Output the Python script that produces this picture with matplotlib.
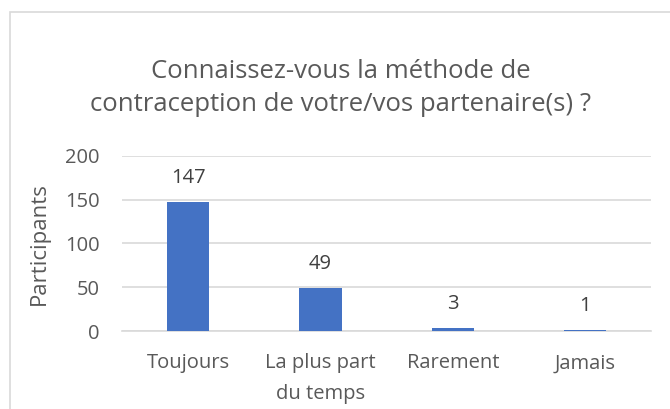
import matplotlib.pyplot as plt
import matplotlib.patches as patches
import numpy as np

# Donnees
categories = ['Toujours', 'La plus part\ndu temps', 'Rarement', 'Jamais']
participants = [147, 49, 3, 1]
titre = 'Connaissez-vous la méthode de\ncontraception de votre/vos partenaire(s) ?'

plt.rcParams['font.family'] = ['Open Sans', 'DejaVu Sans']
gris = '#595959'

fig = plt.figure(figsize=(6.7, 4.09), dpi=100)
ax = fig.add_axes([0.182, 0.1907, 0.790, 0.4279])

# cadre du graphique (style Excel)
fig.patches.append(patches.Rectangle((10 / 670, -0.05), 1.0, 1 - 12 / 409 + 0.05,
                                     transform=fig.transFigure, fill=False,
                                     edgecolor='#d9d9d9', linewidth=1.2))

x = np.arange(len(categories))
bars = ax.bar(x, participants, width=0.32, color='#4472c4', zorder=3)
ax.set_xlim(-0.5, len(categories) - 0.5)
ax.set_ylim(0, 200)
ax.set_yticks([0, 50, 100, 150, 200])
ax.yaxis.grid(True, color='#d9d9d9', linewidth=1.2, zorder=0)

for b, v in zip(bars, participants):
    ax.annotate(str(v), (b.get_x() + b.get_width() / 2, v), xytext=(0, 10),
                textcoords='offset points', ha='center', va='bottom',
                fontsize=14.5, color='#404040')

ax.set_xticks(x)
ax.set_xticklabels(categories, fontsize=14.5, color=gris, linespacing=1.7)
ax.tick_params(axis='y', labelsize=14.5, labelcolor=gris, length=0, pad=16)
ax.tick_params(axis='x', length=0, pad=16)
for s in ['top', 'right', 'left']:
    ax.spines[s].set_visible(False)
ax.spines['bottom'].set_color('#d9d9d9')
ax.spines['bottom'].set_linewidth(1.2)

ax.set_ylabel('Participants', fontsize=16, color=gris, labelpad=11)
fig.text(0.509, 0.785, titre, ha='center', va='center', fontsize=18.5,
         color=gris, linespacing=1.38)

plt.savefig('out.png', dpi=100)
